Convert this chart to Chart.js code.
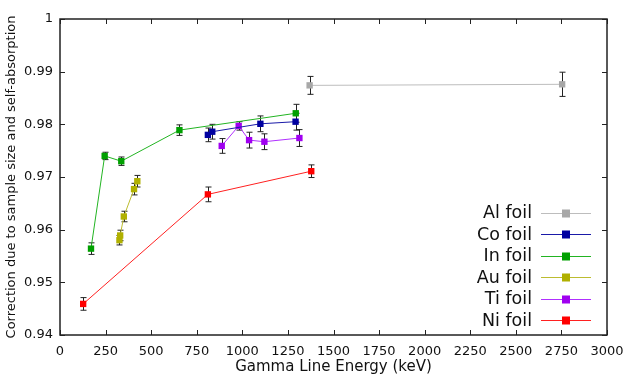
<!DOCTYPE html>
<html>
<head>
<meta charset="utf-8">
<script src="https://cdn.jsdelivr.net/npm/chart.js@4"></script>
<style>
  html, body { margin: 0; padding: 0; background: #fff; }
  #wrap { width: 628px; height: 378px; }
</style>
</head>
<body>
<div id="wrap"><canvas id="chart" width="628" height="378"></canvas></div>
<script>
// values (energy in keV, correction factor, +/- error)
const alX = [1369, 2754];
const alY = [0.9874, 0.9876];
const alErr = [0.0017, 0.0023];

const coX = [811, 835, 1099, 1292];
const coY = [0.9780, 0.9786, 0.9801, 0.9805];
const coErr = [0.0013, 0.0014, 0.0015, 0.0016];

const inX = [170, 245, 336, 655, 1293];
const inY = [0.9564, 0.9740, 0.9730, 0.9789, 0.9821];
const inErr = [0.0011, 0.0007, 0.0008, 0.0010, 0.0017];

const auX = [326, 330, 350, 406, 424];
const auY = [0.9580, 0.9589, 0.9625, 0.9677, 0.9692];
const auErr = [0.0009, 0.0010, 0.0010, 0.0011, 0.0011];

const tiX = [887, 980, 1037, 1121, 1313];
const tiY = [0.9759, 0.9797, 0.9770, 0.9767, 0.9774];
const tiErr = [0.0014, 0.0008, 0.0015, 0.0015, 0.0016];

const niX = [127, 811, 1378];
const niY = [0.9459, 0.9667, 0.9711];
const niErr = [0.0012, 0.0014, 0.0012];

const xTicks = [0, 250, 500, 750, 1000, 1250, 1500, 1750, 2000, 2250, 2500, 2750, 3000];
const yTicks = [0.94, 0.95, 0.96, 0.97, 0.98, 0.99, 1];

const FONT = "'DejaVu Sans', sans-serif";

function series(label, xs, ys, errs, line, mark) {
  return {
    label: label,
    data: xs.map((x, i) => ({ x: x, y: ys[i], err: errs[i] })),
    showLine: true,
    borderColor: line,
    borderWidth: 1,
    backgroundColor: mark,
    pointBackgroundColor: mark,
    pointBorderColor: mark,
    pointStyle: "rect",
    pointRadius: 4.5,
    pointBorderWidth: 0,
  };
}

// legend order top to bottom
const datasets = [
  series("Al foil", alX, alY, alErr, "#bdbdbd", "#a8a8a8"),
  series("Co foil", coX, coY, coErr, "#1a1aa8", "#0000a0"),
  series("In foil", inX, inY, inErr, "#22b422", "#00a000"),
  series("Au foil", auX, auY, auErr, "#bcbc30", "#b0b000"),
  series("Ti foil", tiX, tiY, tiErr, "#b030ff", "#a000f0"),
  series("Ni foil", niX, niY, niErr, "#ff2020", "#ff0000"),
];

// vertical error bars with small caps, under the markers
const errorBars = {
  id: "errorBars",
  beforeDatasetsDraw(chart) {
    const { ctx, scales: { x, y } } = chart;
    ctx.save();
    ctx.strokeStyle = "#222";
    ctx.lineWidth = 1;
    chart.data.datasets.forEach((ds) => {
      ds.data.forEach((p) => {
        const px = Math.round(x.getPixelForValue(p.x)) + 0.5;
        const top = y.getPixelForValue(p.y + p.err);
        const bot = y.getPixelForValue(p.y - p.err);
        ctx.beginPath();
        ctx.moveTo(px, top); ctx.lineTo(px, bot);
        ctx.moveTo(px - 3, top); ctx.lineTo(px + 3, top);
        ctx.moveTo(px - 3, bot); ctx.lineTo(px + 3, bot);
        ctx.stroke();
      });
    });
    ctx.restore();
  },
};

// gnuplot style frame with inward ticks on all four sides
const frame = {
  id: "frame",
  afterDraw(chart) {
    const { ctx, chartArea: a, scales: { x, y } } = chart;
    ctx.save();
    ctx.strokeStyle = "#222";
    ctx.lineWidth = 1.5;
    ctx.strokeRect(a.left, a.top, a.right - a.left, a.bottom - a.top);
    ctx.lineWidth = 1;
    ctx.beginPath();
    x.ticks.forEach((t) => {
      const px = Math.round(x.getPixelForValue(t.value)) + 0.5;
      ctx.moveTo(px, a.bottom); ctx.lineTo(px, a.bottom - 5);
      ctx.moveTo(px, a.top); ctx.lineTo(px, a.top + 5);
    });
    y.ticks.forEach((t) => {
      const py = Math.round(y.getPixelForValue(t.value)) + 0.5;
      ctx.moveTo(a.left, py); ctx.lineTo(a.left + 5, py);
      ctx.moveTo(a.right, py); ctx.lineTo(a.right - 5, py);
    });
    ctx.stroke();
    ctx.restore();
  },
};

// key in the lower right: text first, then line sample with marker
const key = {
  id: "key",
  afterDatasetsDraw(chart) {
    const { ctx, chartArea: a } = chart;
    ctx.save();
    ctx.font = "17.5px " + FONT;
    ctx.textAlign = "right";
    ctx.textBaseline = "middle";
    chart.data.datasets.forEach((ds, i) => {
      const cy = a.top + 193.5 + i * 21.5;
      ctx.fillStyle = "#111";
      ctx.fillText(ds.label, a.left + 472, cy + 1);
      ctx.strokeStyle = ds.borderColor;
      ctx.lineWidth = 1;
      ctx.beginPath();
      ctx.moveTo(a.left + 481, Math.round(cy) + 0.5);
      ctx.lineTo(a.left + 531, Math.round(cy) + 0.5);
      ctx.stroke();
      ctx.fillStyle = ds.pointBackgroundColor;
      ctx.fillRect(a.left + 502, Math.round(cy) - 3.5, 8, 8);
    });
    ctx.restore();
  },
};

new Chart(document.getElementById("chart"), {
  type: "scatter",
  data: { datasets: datasets },
  options: {
    responsive: false,
    animation: false,
    layout: { padding: { left: 0, top: 19, right: 21, bottom: 0 } },
    plugins: { legend: { display: false }, tooltip: { enabled: false } },
    scales: {
      x: {
        type: "linear",
        min: 0,
        max: 3000,
        afterBuildTicks: (s) => { s.ticks = xTicks.map((v) => ({ value: v })); },
        afterFit: (s) => { s.height = 43; s.paddingLeft = 0; s.paddingRight = 0; },
        grid: { display: false, drawTicks: false },
        border: { display: false },
        ticks: { color: "#111", font: { family: FONT, size: 13 }, padding: 9, maxRotation: 0, callback: (v) => String(v) },
        title: {
          display: true,
          text: "Gamma Line Energy (keV)",
          color: "#111",
          font: { family: FONT, size: 15 },
          padding: { top: 0, bottom: 2 },
        },
      },
      y: {
        type: "linear",
        min: 0.94,
        max: 1,
        afterBuildTicks: (s) => { s.ticks = yTicks.map((v) => ({ value: v })); },
        afterFit: (s) => { s.width = 60; s.paddingTop = 0; s.paddingBottom = 0; },
        grid: { display: false, drawTicks: false },
        border: { display: false },
        ticks: { color: "#111", font: { family: FONT, size: 13 }, padding: 7, callback: (v) => String(+v.toFixed(2)) },
        title: {
          display: true,
          text: "Correction due to sample size and self-absorption",
          color: "#111",
          font: { family: FONT, size: 13 },
          padding: { top: 4, bottom: 0 },
        },
      },
    },
  },
  plugins: [errorBars, frame, key],
});
</script>
</body>
</html>
